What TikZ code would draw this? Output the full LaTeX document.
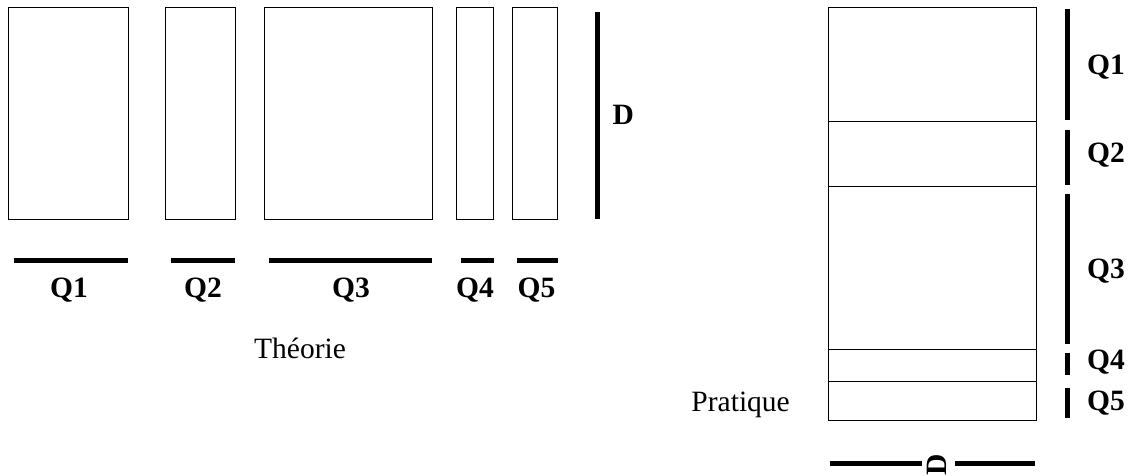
\documentclass[tikz,border=0pt]{standalone}
\usepackage{fontspec}
\setmainfont{Liberation Serif}
\begin{document}
\begin{tikzpicture}[x=1pt,y=-1pt,
  box/.style={draw, line width=1pt, inner sep=0, anchor=north west},
  bar/.style={line width=5pt},
  thin/.style={line width=1pt},
  lab/.style={font=\fontsize{29.5}{35}\selectfont\bfseries, inner sep=0},
  txt/.style={font=\fontsize{29.5}{35}\selectfont, inner sep=0}]
\path[use as bounding box] (0,0) rectangle (1130,476);
% Theorie boxes
\node[box, minimum width=120pt, minimum height=212pt] (r1) at (8,7) {};
\node[box, minimum width=69.5pt, minimum height=212pt] (r2) at (165,7) {};
\node[box, minimum width=168pt, minimum height=212pt] (r3) at (264,7) {};
\node[box, minimum width=37pt, minimum height=212pt] (r4) at (456,7) {};
\node[box, minimum width=45pt, minimum height=212pt] (r5) at (512,7) {};
% width bars
\coordinate (b1a) at (13.5,260); \coordinate (b1b) at (128,260);
\coordinate (b2a) at (171,260);  \coordinate (b2b) at (234.5,260);
\coordinate (b3a) at (269,260);  \coordinate (b3b) at (432,260);
\coordinate (b4a) at (461,260);  \coordinate (b4b) at (493.5,260);
\coordinate (b5a) at (517,260);  \coordinate (b5b) at (557.5,260);
\draw[bar] (b1a) -- (b1b);
\draw[bar] (b2a) -- (b2b);
\draw[bar] (b3a) -- (b3b);
\draw[bar] (b4a) -- (b4b);
\draw[bar] (b5a) -- (b5b);
\node[lab, anchor=base] (lq1) at (69,297) {Q1};
\node[lab, anchor=base] (lq2) at (203,297) {Q2};
\node[lab, anchor=base] (lq3) at (351,297) {Q3};
\node[lab, anchor=base] (lq4) at (475,297) {Q4};
\node[lab, anchor=base] (lq5) at (536.5,297) {Q5};
% D bar
\coordinate (da) at (597,12); \coordinate (db) at (597,219);
\draw[bar] (da) -- (db);
\node[lab, anchor=base west] (ld) at (612.5,125) {D};
\node[txt, anchor=base] (theo) at (300,358) {Théorie};
% Pratique stack
\node[box, minimum width=208pt, minimum height=413pt] (stack) at (828,7) {};
\coordinate (s1a) at (828,122); \coordinate (s1b) at (1036,122);
\coordinate (s2a) at (828,186); \coordinate (s2b) at (1036,186);
\coordinate (s3a) at (828,349); \coordinate (s3b) at (1036,349);
\coordinate (s4a) at (828,381); \coordinate (s4b) at (1036,381);
\draw[thin] (s1a) -- (s1b);
\draw[thin] (s2a) -- (s2b);
\draw[thin] (s3a) -- (s3b);
\draw[thin] (s4a) -- (s4b);
% right bars
\coordinate (v1a) at (1067,9.5);  \coordinate (v1b) at (1067,120.5);
\coordinate (v2a) at (1067,130);  \coordinate (v2b) at (1067,184.5);
\coordinate (v3a) at (1067,193.5); \coordinate (v3b) at (1067,344);
\coordinate (v4a) at (1067,352.5); \coordinate (v4b) at (1067,375);
\coordinate (v5a) at (1067,387.5); \coordinate (v5b) at (1067,417.5);
\draw[bar] (v1a) -- (v1b);
\draw[bar] (v2a) -- (v2b);
\draw[bar] (v3a) -- (v3b);
\draw[bar] (v4a) -- (v4b);
\draw[bar] (v5a) -- (v5b);
\node[lab, anchor=base west] (rq1) at (1087,75) {Q1};
\node[lab, anchor=base west] (rq2) at (1087,163) {Q2};
\node[lab, anchor=base west] (rq3) at (1087,278) {Q3};
\node[lab, anchor=base west] (rq4) at (1087,369) {Q4};
\node[lab, anchor=base west] (rq5) at (1087,410) {Q5};
\node[txt, anchor=base east] (prat) at (790,411.5) {Pratique};
% bottom D
\coordinate (ha) at (829.5,463); \coordinate (hb) at (922,463);
\coordinate (hc) at (955,463);   \coordinate (hd) at (1034.5,463);
\draw[bar] (ha) -- (hb);
\draw[bar] (hc) -- (hd);
\node[lab, rotate=90] (bd) at (936.6,465) {D};
\end{tikzpicture}
\end{document}
